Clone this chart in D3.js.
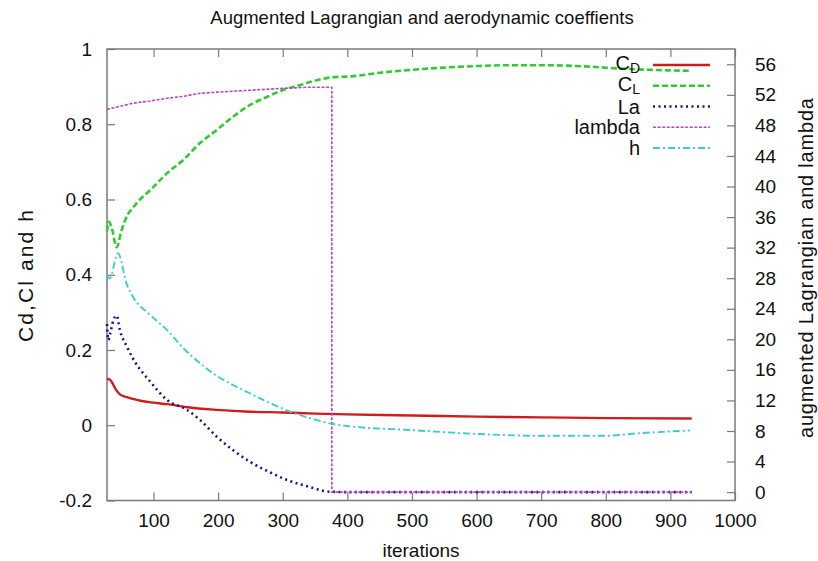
<!DOCTYPE html>
<html>
<head>
<meta charset="utf-8">
<script src="https://cdn.jsdelivr.net/npm/d3@7"></script>
<style>
  body { margin: 0; background: #fff; }
  svg text { font-family: "Liberation Sans", Arial, Helvetica, sans-serif; fill: #111; }
</style>
</head>
<body>
<svg id="chart" width="818" height="561"></svg>
<script>
// ---- data -------------------------------------------------------------
// drag coefficient C_D (left axis)
const iterCD = [28, 32, 36, 42, 48, 60, 68, 80, 100, 121, 152, 198, 249, 300, 350, 400, 500, 600, 700, 800, 933];
const cd     = [0.123, 0.122, 0.113, 0.094, 0.082, 0.074, 0.070, 0.065, 0.060, 0.056, 0.048, 0.041, 0.036, 0.034, 0.031, 0.029, 0.026, 0.023, 0.021, 0.019, 0.018];

// lift coefficient C_L (left axis)
const iterCL = [28, 31, 36, 43, 50, 60, 68, 79, 95, 121, 146, 172, 198, 223, 249, 276, 300, 327, 342, 360, 378, 404, 451, 502, 554, 605, 650, 698, 776, 822, 930];
const cl     = [0.515, 0.541, 0.52, 0.473, 0.515, 0.56, 0.578, 0.60, 0.625, 0.67, 0.705, 0.75, 0.785, 0.82, 0.851, 0.873, 0.891, 0.904, 0.912, 0.92, 0.925, 0.927, 0.937, 0.945, 0.951, 0.955, 0.957, 0.957, 0.953, 0.948, 0.942];

// augmented Lagrangian La (right axis)
const iterLa = [28, 30, 33, 38, 43, 48, 59, 68, 95, 121, 152, 172, 198, 223, 249, 280, 307, 340, 373, 400, 500, 600, 700, 800, 933];
const la     = [22.0, 19.9, 20.8, 22.5, 23.1, 21.2, 19.0, 17.5, 14.45, 12.05, 10.75, 9.44, 7.25, 5.5, 3.98, 2.6, 1.58, 0.7, 0.05, 0, 0, 0, 0, 0, 0];

// multiplier lambda (right axis)
const iterLambda = [28, 68, 95, 121, 146, 172, 198, 249, 300, 340, 376, 376, 500, 700, 933];
const lambda     = [50.1, 50.9, 51.2, 51.55, 51.8, 52.2, 52.35, 52.6, 52.85, 53.0, 53.0, 0, 0, 0, 0];

// h (left axis)
const iterH = [28, 32, 45, 59, 68, 95, 121, 146, 172, 198, 223, 249, 275, 300, 325, 350, 375, 400, 500, 600, 700, 800, 853, 930];
const h     = [0.399, 0.39, 0.457, 0.373, 0.342, 0.293, 0.253, 0.205, 0.165, 0.131, 0.107, 0.085, 0.063, 0.044, 0.028, 0.015, 0.004, -0.002, -0.013, -0.023, -0.028, -0.028, -0.021, -0.014];

// axis ticks
const xTicks = [100, 200, 300, 400, 500, 600, 700, 800, 900, 1000];
const yTicks = [-0.2, 0, 0.2, 0.4, 0.6, 0.8, 1];
const yTickLabels = ["-0.2", "0", "0.2", "0.4", "0.6", "0.8", "1"];
const y2Ticks = [0, 4, 8, 12, 16, 20, 24, 28, 32, 36, 40, 44, 48, 52, 56];

// legend labels
const legendMain = ["C", "C", "La", "lambda", "h"];
const legendSub  = ["D", "L", "", "", ""];

// ---- layout -----------------------------------------------------------
const svg = d3.select("#chart");
const L = 107, R = 735, T = 49, B = 500.5;
const frameColor = "#7a7a7a";

const x  = d3.scaleLinear().domain([28, 1000]).range([L, R]);
const y  = d3.scaleLinear().domain([-0.2, 1]).range([B, T]);
const y2 = d3.scaleLinear().domain([-1.1, 58]).range([B, T]);

// axes (gnuplot-style inward ticks)
function styleAxis(g) {
  g.select(".domain").remove();
  g.selectAll(".tick line").attr("stroke", frameColor).attr("stroke-width", 1.2);
  g.selectAll(".tick text").attr("font-size", 19).attr("fill", "#111")
    .attr("font-family", "Liberation Sans, Arial, sans-serif");
}

svg.append("g").attr("transform", `translate(0,${B})`)
  .call(d3.axisBottom(x).tickValues(xTicks).tickSize(-8).tickSizeOuter(0).tickPadding(13).tickFormat(d3.format("d")))
  .call(styleAxis);

svg.append("g").attr("transform", `translate(0,${T})`)
  .call(d3.axisTop(x).tickValues(xTicks).tickSize(-8).tickSizeOuter(0).tickFormat(""))
  .call(styleAxis);

svg.append("g").attr("transform", `translate(${L},0)`)
  .call(d3.axisLeft(y).tickValues(yTicks).tickSize(-8).tickSizeOuter(0).tickPadding(15)
    .tickFormat((d, i) => yTickLabels[i]))
  .call(styleAxis);

svg.append("g").attr("transform", `translate(${R},0)`)
  .call(d3.axisRight(y2).tickValues(y2Ticks).tickSize(-8).tickSizeOuter(0).tickPadding(20).tickFormat(d3.format("d")))
  .call(styleAxis);

// frame
svg.append("rect").attr("x", L).attr("y", T).attr("width", R - L).attr("height", B - T)
  .attr("fill", "none").attr("stroke", frameColor).attr("stroke-width", 1.5);

// titles
svg.append("text").attr("x", 422).attr("y", 24).attr("text-anchor", "middle")
  .attr("font-size", 18.5).text("Augmented Lagrangian and aerodynamic coeffients");
svg.append("text").attr("x", (L + R) / 2).attr("y", 557).attr("text-anchor", "middle")
  .attr("font-size", 19).text("iterations");
svg.append("text").attr("transform", `translate(25,276) rotate(-90)`)
  .attr("text-anchor", "middle").attr("dominant-baseline", "central")
  .attr("font-size", 21).attr("textLength", 132).attr("lengthAdjust", "spacing")
  .text("Cd,Cl and h");
svg.append("text").attr("transform", `translate(806,268) rotate(-90)`)
  .attr("text-anchor", "middle").attr("dominant-baseline", "central")
  .attr("font-size", 20).attr("textLength", 340).attr("lengthAdjust", "spacing")
  .text("augmented Lagrangian and lambda");

// ---- series -----------------------------------------------------------
const series = [
  { xs: iterCD, ys: cd, scale: y, color: "#d01c1c", width: 2.4, dash: null, curve: d3.curveMonotoneX },
  { xs: iterCL, ys: cl, scale: y, color: "#2ecc2e", width: 2.6, dash: "6,3", curve: d3.curveMonotoneX },
  { xs: iterLa, ys: la, scale: y2, color: "#16168c", width: 2.6, dash: "2,3.5", curve: d3.curveMonotoneX },
  { xs: iterLambda, ys: lambda, scale: y2, color: "#c040c8", width: 1.6, dash: "3,1.6", curve: d3.curveLinear },
  { xs: iterH, ys: h, scale: y, color: "#3ccccc", width: 1.9, dash: "7,3,2,3", curve: d3.curveMonotoneX }
];

const plot = svg.append("g");
series.forEach(s => {
  const pts = s.xs.map((v, i) => [v, s.ys[i]]);
  const line = d3.line().x(d => x(d[0])).y(d => s.scale(d[1])).curve(s.curve);
  plot.append("path").attr("d", line(pts))
    .attr("fill", "none").attr("stroke", s.color).attr("stroke-width", s.width)
    .attr("stroke-dasharray", s.dash).attr("stroke-linejoin", "round");
});

// ---- legend -----------------------------------------------------------
const legendY = d3.scalePoint().domain(d3.range(series.length)).range([65, 148]);
const legend = svg.append("g");
series.forEach((s, i) => {
  const yy = legendY(i);
  const t = legend.append("text").attr("x", 640).attr("y", legendSub[i] ? yy - 2 : yy)
    .attr("text-anchor", "end").attr("dominant-baseline", "central").attr("font-size", 20);
  t.append("tspan").text(legendMain[i]);
  if (legendSub[i]) {
    t.append("tspan").attr("font-size", 14).attr("dy", 5).text(legendSub[i]);
  }
  legend.append("line").attr("x1", 653).attr("x2", 710).attr("y1", yy).attr("y2", yy)
    .attr("stroke", s.color).attr("stroke-width", s.width).attr("stroke-dasharray", s.dash);
});
</script>
</body>
</html>
